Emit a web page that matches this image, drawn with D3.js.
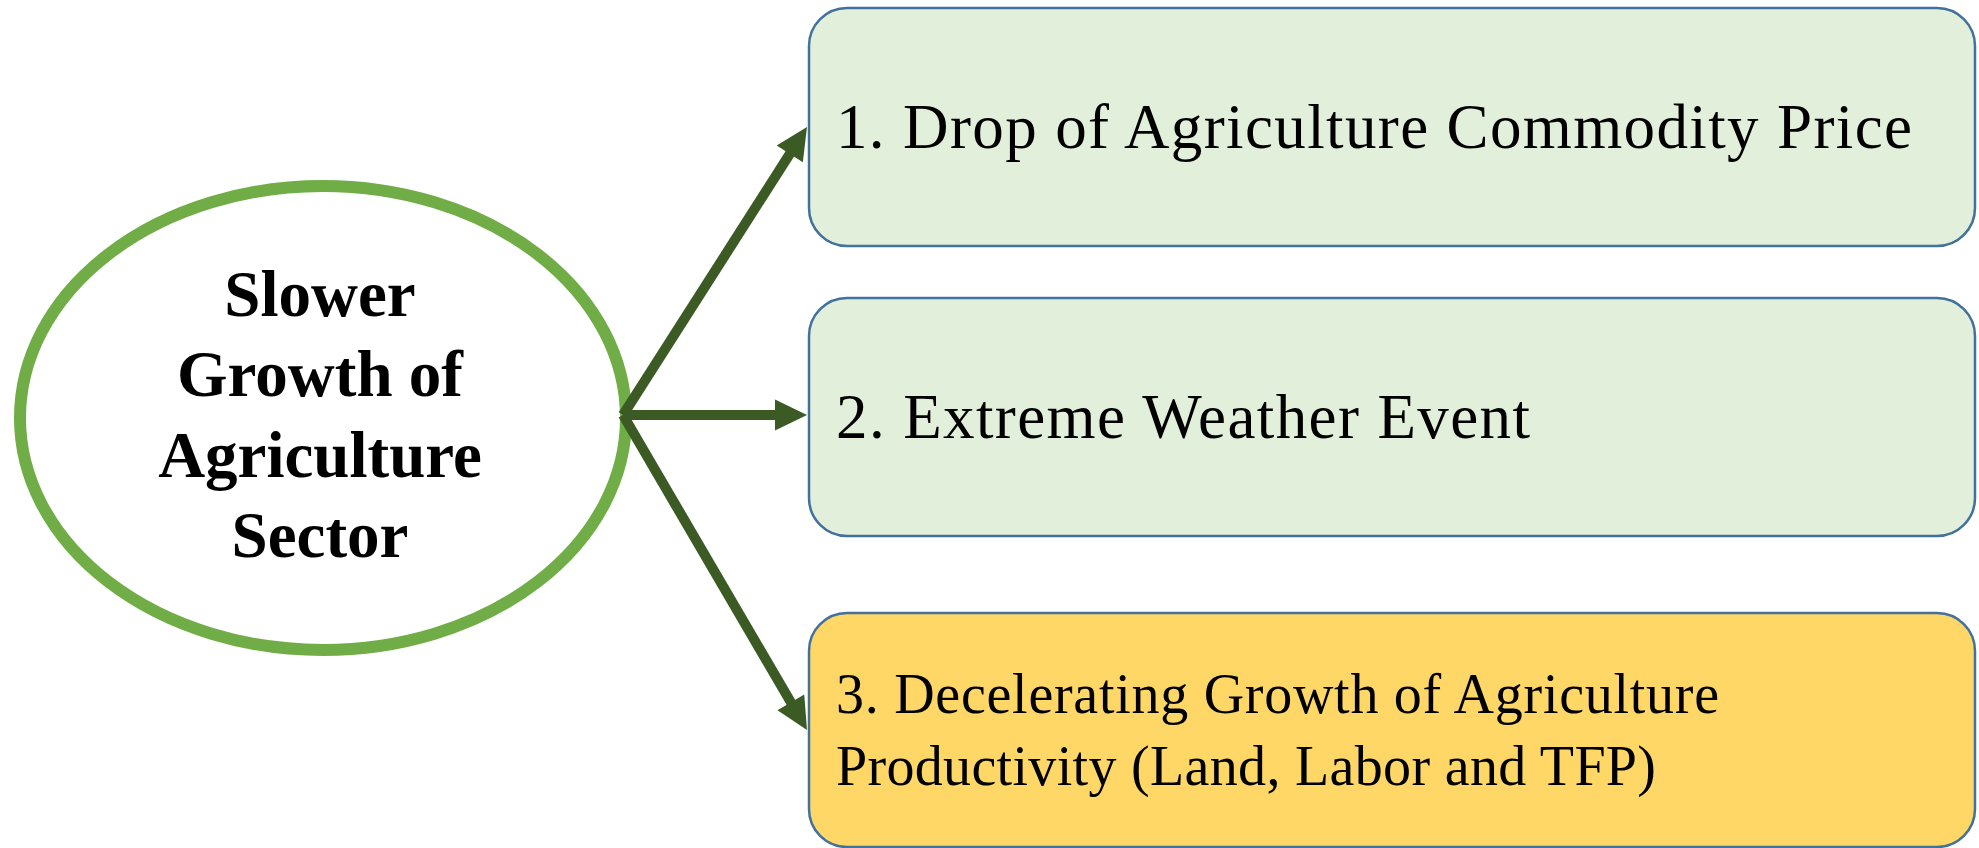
<!DOCTYPE html>
<html>
<head>
<meta charset="utf-8">
<script src="https://cdn.jsdelivr.net/npm/d3@7"></script>
<style>
  html, body { margin: 0; padding: 0; background: #ffffff; }
  svg { display: block; }
</style>
</head>
<body>
<svg id="chart" width="1979" height="848"></svg>
<script>
// ---- data ----
const centerLines = ["Slower", "Growth of", "Agriculture", "Sector"];
const causeIds = ["price", "weather", "productivity"];
const causeLines = [
  ["1. Drop of Agriculture Commodity Price"],
  ["2. Extreme Weather Event"],
  ["3. Decelerating Growth of Agriculture", "Productivity (Land, Labor and TFP)"]
];
const causeFills = ["#E2EFDA", "#E2EFDA", "#FED766"];
const causeTextWidths = [1076, 694, 883, 820];
const causeFontSizes = [63, 63, 56, 56];

// ---- layout ----
const W = 1979, H = 848;
const svg = d3.select("#chart");

const boxTop = d3.scaleOrdinal().domain(causeIds).range([8, 298, 613]);
const boxHeight = d3.scaleOrdinal().domain(causeIds).range([238, 238, 234]);
const boxX = d3.scaleLinear().domain([0, 1]).range([809, 1975]);
const arrowTipY = d3.scaleOrdinal().domain(causeIds).range([127, 415, 730]);

const ell = { cx: 323, cy: 418, rx: 303, ry: 232 };
const origin = [623, 415];

// clip (reference image is cropped at the left)
svg.append("defs").append("clipPath").attr("id", "clipL")
  .append("rect").attr("x", 12).attr("y", 0).attr("width", W).attr("height", H);

// ellipse
svg.append("ellipse")
  .attr("clip-path", "url(#clipL)")
  .attr("cx", ell.cx).attr("cy", ell.cy)
  .attr("rx", ell.rx).attr("ry", ell.ry)
  .attr("fill", "#ffffff")
  .attr("stroke", "#70AD47")
  .attr("stroke-width", 12);

// center text
const lineY = d3.scaleLinear().domain([0, centerLines.length - 1]).range([316, 557]);
svg.append("g").selectAll("text").data(centerLines).join("text")
  .attr("x", 320)
  .attr("y", (d, i) => lineY(i))
  .attr("text-anchor", "middle")
  .attr("font-family", "'Liberation Serif', 'Times New Roman', serif")
  .attr("font-weight", "bold")
  .attr("font-size", 65)
  .attr("fill", "#000")
  .text(d => d);

// boxes
const boxes = svg.append("g").selectAll("g").data(causeIds).join("g");
boxes.append("rect")
  .attr("x", boxX(0))
  .attr("y", d => boxTop(d))
  .attr("width", boxX(1) - boxX(0))
  .attr("height", d => boxHeight(d))
  .attr("rx", 38).attr("ry", 38)
  .attr("fill", (d, i) => causeFills[i])
  .attr("stroke", "#41719C")
  .attr("stroke-width", 2.5);

// box text
const baselines = [[148], [438], [713, 785]];
let wIdx = 0;
causeIds.forEach((id, i) => {
  causeLines[i].forEach((line, j) => {
    const target = causeTextWidths[wIdx];
    const fs = causeFontSizes[wIdx];
    wIdx++;
    const t = svg.append("text")
      .attr("x", 836)
      .attr("y", baselines[i][j])
      .attr("font-family", "'Liberation Serif', 'Times New Roman', serif")
      .attr("font-size", fs)
      .attr("fill", "#000")
      .text(line);
    const natural = t.node().getComputedTextLength();
    if (natural > target) {
      t.attr("font-size", fs * target / natural);
    } else {
      t.attr("textLength", target).attr("lengthAdjust", "spacing");
    }
  });
});

// arrows
const arrowColor = "#3B5A24";
const headLen = 32, headHalf = 15.5;
const lineGen = d3.line();
const arrows = svg.append("g");
causeIds.forEach(id => {
  const tip = [807, arrowTipY(id)];
  const dx = tip[0] - origin[0], dy = tip[1] - origin[1];
  const len = Math.hypot(dx, dy);
  const ux = dx / len, uy = dy / len;
  const px = -uy, py = ux;
  const base = [tip[0] - ux * headLen, tip[1] - uy * headLen];
  arrows.append("path")
    .attr("d", lineGen([origin, [base[0] + ux * 2, base[1] + uy * 2]]))
    .attr("stroke", arrowColor)
    .attr("stroke-width", 10)
    .attr("fill", "none");
  arrows.append("path")
    .attr("d", lineGen([tip,
      [base[0] + px * headHalf, base[1] + py * headHalf],
      [base[0] - px * headHalf, base[1] - py * headHalf]]) + "Z")
    .attr("fill", arrowColor);
});
</script>
</body>
</html>
